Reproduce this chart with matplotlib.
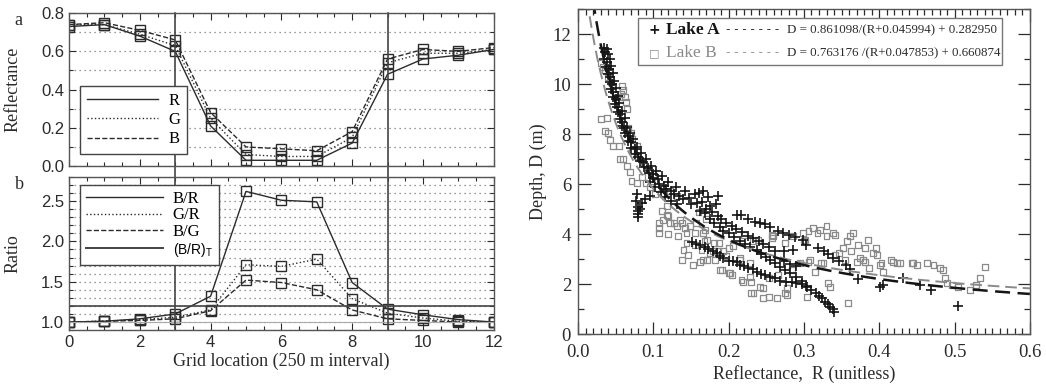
import numpy as np
import matplotlib.pyplot as plt
from matplotlib.lines import Line2D
from matplotlib.patches import Rectangle
from matplotlib.ticker import MultipleLocator

# ---- left panels: transect along the grid ----
grid_x = list(range(13))
refl_R = [0.73, 0.74, 0.68, 0.60, 0.21, 0.03, 0.03, 0.03, 0.12, 0.48, 0.56, 0.58, 0.61]
refl_G = [0.74, 0.74, 0.69, 0.63, 0.25, 0.06, 0.05, 0.05, 0.15, 0.54, 0.59, 0.59, 0.61]
refl_B = [0.74, 0.75, 0.71, 0.66, 0.28, 0.10, 0.09, 0.08, 0.18, 0.56, 0.61, 0.60, 0.62]

ratio_BR = [1.00, 1.01, 1.04, 1.10, 1.32, 2.62, 2.51, 2.49, 1.49, 1.16, 1.09, 1.03, 1.00]
ratio_GR = [1.00, 1.01, 1.03, 1.06, 1.15, 1.71, 1.69, 1.78, 1.29, 1.11, 1.05, 1.01, 1.00]
ratio_BG = [1.00, 1.01, 1.02, 1.04, 1.14, 1.52, 1.49, 1.40, 1.15, 1.04, 1.02, 1.00, 1.00]
ratio_threshold = 1.2
lake_edges = [3, 9]

# ---- right panel: depth vs reflectance (R, D) ----
lakeA = [
    (0.034, 11.45), (0.036, 11.3), (0.038, 11.4), (0.040, 11.2), (0.035, 11.0),
    (0.039, 10.9), (0.042, 11.0), (0.037, 10.7), (0.041, 10.6), (0.044, 10.75),
    (0.040, 10.4), (0.043, 10.3), (0.046, 10.45), (0.042, 10.1), (0.045, 10.0),
    (0.048, 10.15), (0.044, 9.8), (0.047, 9.7), (0.050, 9.85), (0.047, 9.5),
    (0.050, 9.4), (0.053, 9.55), (0.049, 9.2), (0.052, 9.1), (0.055, 9.25),
    (0.053, 8.9), (0.056, 8.8), (0.059, 8.95), (0.056, 8.6), (0.059, 8.5),
    (0.062, 8.65), (0.058, 8.35), (0.061, 8.25), (0.065, 8.3), (0.063, 8.05),
    (0.066, 7.95), (0.069, 8.05), (0.066, 7.75), (0.070, 7.7), (0.073, 7.8),
    (0.071, 7.45), (0.075, 7.4), (0.078, 7.5), (0.076, 7.2), (0.080, 7.1),
    (0.084, 7.25), (0.082, 6.95), (0.086, 6.9), (0.090, 7.0), (0.088, 6.7),
    (0.093, 6.65), (0.097, 6.75), (0.094, 6.45), (0.099, 6.4), (0.104, 6.55),
    (0.100, 6.25), (0.106, 6.2), (0.111, 6.35), (0.108, 6.0), (0.114, 5.95),
    (0.120, 6.1), (0.117, 5.8), (0.123, 5.75), (0.130, 5.9), (0.127, 5.6),
    (0.134, 5.55), (0.142, 5.75), (0.140, 5.4), (0.148, 5.45), (0.155, 5.6),
    (0.160, 5.65), (0.166, 5.75), (0.172, 5.5), (0.150, 5.2), (0.158, 5.25),
    (0.165, 5.3), (0.175, 5.15), (0.183, 5.2), (0.186, 5.55),
    (0.096, 6.1), (0.102, 5.9), (0.110, 5.7), (0.116, 5.5), (0.124, 5.35), (0.132, 5.2),
    (0.096, 5.55), (0.089, 5.43), (0.085, 5.25), (0.078, 5.6), (0.077, 5.35),
    (0.079, 5.1), (0.079, 4.95), (0.080, 4.8), (0.080, 4.7), (0.082, 5.0),
    (0.162, 4.95), (0.168, 4.85), (0.175, 4.6), (0.180, 4.45), (0.188, 4.3),
    (0.193, 4.15), (0.200, 4.05), (0.207, 3.9), (0.215, 3.72), (0.222, 3.6),
    (0.228, 3.5), (0.237, 3.38), (0.243, 3.2), (0.250, 3.1), (0.255, 2.98),
    (0.262, 2.85), (0.268, 2.7), (0.275, 2.58), (0.281, 2.45), (0.290, 2.31),
    (0.297, 2.15), (0.303, 1.95),
    (0.170, 5.0), (0.178, 4.9), (0.186, 4.75), (0.190, 4.6), (0.197, 4.45),
    (0.204, 4.35), (0.210, 4.2), (0.218, 4.1), (0.226, 3.95), (0.233, 3.85),
    (0.240, 3.75), (0.246, 3.6), (0.253, 3.5), (0.262, 3.32), (0.273, 3.32),
    (0.286, 3.38), (0.273, 2.92), (0.282, 2.8), (0.290, 2.75),
    (0.151, 3.7), (0.157, 3.62), (0.162, 3.58), (0.168, 3.5), (0.173, 3.4),
    (0.179, 3.35), (0.184, 3.25), (0.188, 3.12), (0.193, 3.05), (0.200, 2.95),
    (0.206, 2.95), (0.211, 2.88), (0.215, 2.78), (0.220, 2.75), (0.226, 2.65),
    (0.232, 2.6), (0.237, 2.5), (0.243, 2.42), (0.248, 2.38), (0.255, 2.3),
    (0.262, 2.25), (0.268, 2.15), (0.276, 2.1), (0.284, 2.08), (0.290, 2.05),
    (0.297, 2.0), (0.304, 1.9), (0.310, 1.78), (0.316, 1.65), (0.320, 1.55),
    (0.324, 1.45), (0.328, 1.3), (0.332, 1.2), (0.335, 1.1), (0.338, 1.0), (0.340, 0.9),
    (0.211, 4.78), (0.217, 4.78), (0.226, 4.6), (0.235, 4.5), (0.241, 4.45),
    (0.248, 4.4), (0.255, 4.28), (0.265, 4.12), (0.272, 4.05), (0.280, 3.98),
    (0.288, 3.9), (0.299, 3.78), (0.303, 3.58), (0.318, 3.45), (0.326, 3.32),
    (0.332, 3.2), (0.339, 3.05), (0.346, 2.92), (0.356, 2.78), (0.361, 2.6),
    (0.372, 2.2), (0.401, 1.88), (0.405, 1.98), (0.432, 2.25), (0.454, 1.98),
    (0.469, 1.78), (0.505, 1.15),
]
lakeB = [
    (0.030, 10.85), (0.033, 10.7), (0.036, 10.55), (0.040, 10.3), (0.044, 10.1),
    (0.058, 9.93), (0.060, 9.78), (0.057, 9.62), (0.062, 9.5), (0.055, 9.5),
    (0.065, 9.02), (0.064, 9.3),
    (0.031, 8.6), (0.038, 8.66), (0.036, 8.12), (0.040, 8.06), (0.042, 7.79),
    (0.047, 7.52), (0.054, 7.52), (0.056, 7.0), (0.060, 7.0), (0.065, 6.72),
    (0.069, 6.5), (0.071, 6.15), (0.078, 6.07),
    (0.067, 8.25), (0.070, 8.05), (0.072, 7.8), (0.078, 7.52), (0.071, 7.39),
    (0.078, 7.12), (0.087, 6.86), (0.093, 6.59), (0.100, 6.32), (0.111, 5.85),
    (0.122, 5.72), (0.131, 5.52), (0.085, 6.3), (0.090, 6.05), (0.095, 5.9), (0.102, 5.6),
    (0.118, 5.12), (0.111, 4.92), (0.120, 4.72), (0.127, 4.45), (0.135, 4.59),
    (0.149, 4.32), (0.157, 4.45), (0.169, 4.19), (0.160, 4.9), (0.170, 4.6),
    (0.107, 4.45), (0.107, 4.25), (0.107, 4.05), (0.113, 4.58), (0.118, 4.78),
    (0.122, 4.45), (0.120, 4.0), (0.131, 4.32), (0.133, 3.92), (0.138, 4.45),
    (0.144, 4.05), (0.140, 3.38), (0.138, 2.98), (0.146, 3.18), (0.153, 2.78),
    (0.155, 4.05), (0.166, 2.98), (0.171, 3.78), (0.175, 3.25), (0.180, 3.65),
    (0.186, 3.32), (0.191, 2.58), (0.197, 3.12), (0.202, 2.45), (0.206, 3.52),
    (0.215, 3.05), (0.219, 2.11), (0.228, 2.31), (0.233, 1.64), (0.242, 1.91),
    (0.246, 1.44), (0.253, 1.51), (0.264, 1.44), (0.275, 1.64), (0.277, 1.58),
    (0.277, 1.85), (0.259, 3.92), (0.275, 3.65), (0.286, 3.92), (0.299, 4.05),
    (0.301, 3.78), (0.312, 4.25), (0.321, 4.18), (0.330, 4.32), (0.339, 4.05),
    (0.308, 2.98), (0.304, 1.51), (0.315, 2.51), (0.326, 2.85), (0.335, 1.91),
    (0.346, 3.25), (0.352, 3.45), (0.357, 3.72), (0.361, 3.92), (0.365, 4.05),
    (0.359, 1.24), (0.370, 2.91), (0.372, 3.58), (0.381, 3.45), (0.381, 2.91),
    (0.385, 3.78), (0.392, 3.25), (0.396, 3.45), (0.401, 2.78), (0.405, 2.51),
    (0.418, 2.91), (0.427, 2.85), (0.445, 2.85), (0.450, 2.78), (0.463, 2.85),
    (0.472, 2.78), (0.481, 2.65), (0.485, 2.58), (0.487, 2.25), (0.496, 1.98),
    (0.505, 1.91), (0.520, 1.78), (0.529, 1.98), (0.534, 2.25), (0.540, 2.71),
    (0.490, 2.05),
    (0.142, 4.25), (0.166, 4.05), (0.144, 3.65), (0.155, 3.58), (0.164, 3.38),
    (0.168, 3.72), (0.171, 2.98), (0.162, 2.91), (0.179, 3.32), (0.182, 2.98),
    (0.187, 3.65), (0.193, 3.32), (0.200, 3.45), (0.189, 2.58), (0.200, 2.45),
    (0.204, 2.38), (0.217, 2.18), (0.230, 2.11), (0.220, 3.98), (0.232, 3.72),
    (0.239, 3.78), (0.215, 2.98), (0.228, 2.85), (0.246, 1.85), (0.230, 1.64),
    (0.257, 3.98), (0.257, 3.85), (0.300, 3.72), (0.306, 4.12), (0.254, 2.25),
    (0.266, 2.38), (0.284, 2.58), (0.295, 2.85), (0.306, 2.91),
    (0.318, 4.05), (0.330, 3.92), (0.341, 3.98), (0.323, 2.85), (0.332, 2.05),
    (0.341, 3.18), (0.354, 2.98), (0.363, 3.32), (0.374, 3.05), (0.378, 2.98),
    (0.386, 2.65), (0.397, 3.18), (0.403, 2.85), (0.415, 2.98), (0.423, 2.85),
    (0.443, 2.85),
]
# fitted curves D = a/(R+b) + c
fitA = [0.861098, 0.045994, 0.282950]
fitB = [0.763176, 0.047853, 0.660874]

serif = 'Liberation Serif'
sans = 'Liberation Sans'
ink = '#2b2b2b'

fig = plt.figure(figsize=(10.46, 3.87), dpi=100)
ax_a = fig.add_axes([0.066, 0.571, 0.406, 0.395])
ax_b = fig.add_axes([0.066, 0.147, 0.406, 0.396])
ax_c = fig.add_axes([0.5526, 0.136, 0.432, 0.840])


def style_left(ax):
    ax.set_xlim(0, 12)
    ax.xaxis.set_major_locator(MultipleLocator(2))
    ax.xaxis.set_minor_locator(MultipleLocator(0.5))
    ax.tick_params(which='both', direction='in', top=True, right=True, colors=ink,
                   labelsize=12, width=0.8)
    ax.tick_params(which='major', length=5)
    ax.tick_params(which='minor', length=3)
    for lab in ax.get_xticklabels() + ax.get_yticklabels():
        lab.set_family(sans)
    for s in ax.spines.values():
        s.set_color('#555555')
        s.set_linewidth(1.0)
    ax.yaxis.grid(True, which='both', linestyle=(0, (1, 3)), color='#777777', lw=0.9)
    ax.set_axisbelow(True)


mk = dict(marker='s', markersize=7, markerfacecolor='none', markeredgecolor=ink,
          markeredgewidth=1.0, color=ink, lw=1.0)

# panel a
ax_a.plot(grid_x, refl_R, linestyle='-', **mk)
ax_a.plot(grid_x, refl_G, linestyle=':', **mk)
ax_a.plot(grid_x, refl_B, linestyle='--', **mk)
ax_a.set_ylim(0, 0.8)
ax_a.yaxis.set_major_locator(MultipleLocator(0.2))
ax_a.yaxis.set_minor_locator(MultipleLocator(0.1))
ax_a.yaxis.set_major_formatter(plt.FormatStrFormatter('%.1f'))
style_left(ax_a)
ax_a.tick_params(labelbottom=False)
for x in lake_edges:
    ax_a.axvline(x, ymin=-0.08, ymax=1, color='#444444', lw=1.2, clip_on=False)
ax_a.set_ylabel('Reflectance', family=serif, fontsize=13, color=ink)
ax_a.yaxis.set_label_coords(-0.112, 0.5)
hand_a = [Line2D([], [], color=ink, lw=1.0, ls=s) for s in ['-', ':', '--']]
leg_a = ax_a.legend(hand_a, ['R', 'G', 'B'], loc='lower left', bbox_to_anchor=(0.026, 0.078),
                    prop={'family': serif, 'size': 12}, handlelength=4.3, labelspacing=0.2,
                    fancybox=False, edgecolor='#444444', framealpha=1, borderpad=0.4,
                    handletextpad=0.6, borderaxespad=0)
leg_a.get_frame().set_linewidth(1.0)

# panel b
ax_b.plot(grid_x, ratio_BR, linestyle='-', **mk)
ax_b.plot(grid_x, ratio_GR, linestyle=':', **mk)
ax_b.plot(grid_x, ratio_BG, linestyle='--', **mk)
ax_b.axhline(ratio_threshold, color='#444444', lw=1.2)
ax_b.axhline(1.0, color='#aaaaaa', lw=0.8)
ax_b.set_ylim(0.9, 2.8)
ax_b.yaxis.set_major_locator(MultipleLocator(0.5))
ax_b.yaxis.set_minor_locator(MultipleLocator(0.1))
ax_b.yaxis.set_major_formatter(plt.FormatStrFormatter('%.1f'))
style_left(ax_b)
for x in lake_edges:
    ax_b.axvline(x, color='#444444', lw=1.2)
ax_b.set_ylabel('Ratio', family=serif, fontsize=13, color=ink)
ax_b.yaxis.set_label_coords(-0.112, 0.5)
ax_b.set_xlabel('Grid location (250 m interval)', family=serif, fontsize=13, color=ink,
                labelpad=2)
hand_b = [Line2D([], [], color=ink, lw=1.0, ls=s) for s in ['-', ':', '--']]
hand_b.append(Line2D([], [], color='#444444', lw=1.4, ls='-'))
leg_b = ax_b.legend(hand_b, ['B/R', 'G/R', 'B/G', r'(B/R)$_\mathregular{T}$'],
                    loc='upper left', bbox_to_anchor=(0.026, 0.948),
                    prop={'family': serif, 'size': 12}, handlelength=4.6, labelspacing=0.05,
                    fancybox=False, edgecolor='#444444', framealpha=1, borderpad=0.35,
                    handletextpad=0.6, borderaxespad=0)
leg_b.get_frame().set_linewidth(1.0)
for t in leg_b.get_texts():
    t.set_horizontalalignment('right')
leg_b.get_texts()[3].set_family(sans)
leg_b.get_texts()[3].set_fontsize(10)

fig.text(0.014, 0.935, 'a', family=serif, fontsize=13, color=ink)
fig.text(0.014, 0.512, 'b', family=serif, fontsize=13, color=ink)

# panel c
aR = [p[0] for p in lakeA]
aD = [p[1] for p in lakeA]
bR = [p[0] for p in lakeB]
bD = [p[1] for p in lakeB]
ax_c.scatter(bR, bD, marker='s', s=18, facecolors='none', edgecolors='#8a8a8a', linewidths=0.9)
ax_c.scatter(aR, aD, marker='+', s=42, color='#151515', linewidths=1.2)

r_fit = np.linspace(0.0, 0.6, 500)
ax_c.plot(r_fit, fitB[0] / (r_fit + fitB[1]) + fitB[2], color='#8a8a8a', lw=1.4,
          dashes=(6, 3))
ax_c.plot(r_fit, fitA[0] / (r_fit + fitA[1]) + fitA[2], color='#151515', lw=1.8,
          dashes=(6, 3))

ax_c.set_xlim(0, 0.6)
ax_c.set_ylim(0, 13)
ax_c.xaxis.set_major_locator(MultipleLocator(0.1))
ax_c.xaxis.set_minor_locator(MultipleLocator(0.01))
ax_c.yaxis.set_major_locator(MultipleLocator(2))
ax_c.yaxis.set_minor_locator(MultipleLocator(1))
ax_c.xaxis.set_major_formatter(plt.FormatStrFormatter('%.1f'))
ax_c.tick_params(which='both', direction='in', top=True, right=True, colors=ink,
                 labelsize=13.5, width=0.9)
ax_c.tick_params(which='major', length=9)
ax_c.tick_params(which='minor', length=4)
ax_c.tick_params(axis='x', which='major', pad=7)
ax_c.tick_params(axis='y', which='major', pad=5)
for lab in ax_c.get_xticklabels() + ax_c.get_yticklabels():
    lab.set_family(serif)
for s in ax_c.spines.values():
    s.set_color('#555555')
    s.set_linewidth(1.0)
ax_c.set_xlabel('Reflectance,  R (unitless)', family=serif, fontsize=13, color=ink, labelpad=3)
ax_c.set_ylabel('Depth, D (m)', family=serif, fontsize=13, color=ink, labelpad=4)

# legend box for panel c
ax_c.add_patch(Rectangle((0.133, 0.829), 0.805, 0.144, transform=ax_c.transAxes,
                         facecolor='white', edgecolor='#777777', lw=1.0, zorder=5))
rows = [(0.935, '+', 'Lake A', '#151515',
         'D = 0.861098/(R+0.045994) + 0.282950'),
        (0.866, '\u25a1', 'Lake B', '#8a8a8a',
         'D = 0.763176 /(R+0.047853) + 0.660874')]
for y, sym, name, col, eq in rows:
    ax_c.text(0.168, y, sym, transform=ax_c.transAxes, ha='center', va='center',
              family=['DejaVu Sans'], fontsize=10 if sym == '+' else 8,
              color=col, zorder=6, fontweight='bold')
    ax_c.text(0.195, y, name, transform=ax_c.transAxes, ha='left', va='center',
              family=serif, fontsize=12.5, color=col, zorder=6,
              fontweight='bold' if name == 'Lake A' else 'normal')
    ax_c.text(0.328, y, '- - - - - - -', transform=ax_c.transAxes, ha='left', va='center',
              family=sans, fontsize=9.5, color=col, zorder=6)
    ax_c.text(0.462, y, eq, transform=ax_c.transAxes, ha='left', va='center',
              family=serif, fontsize=9.3, color=ink, zorder=6)

fig.savefig('out.png', dpi=100)
